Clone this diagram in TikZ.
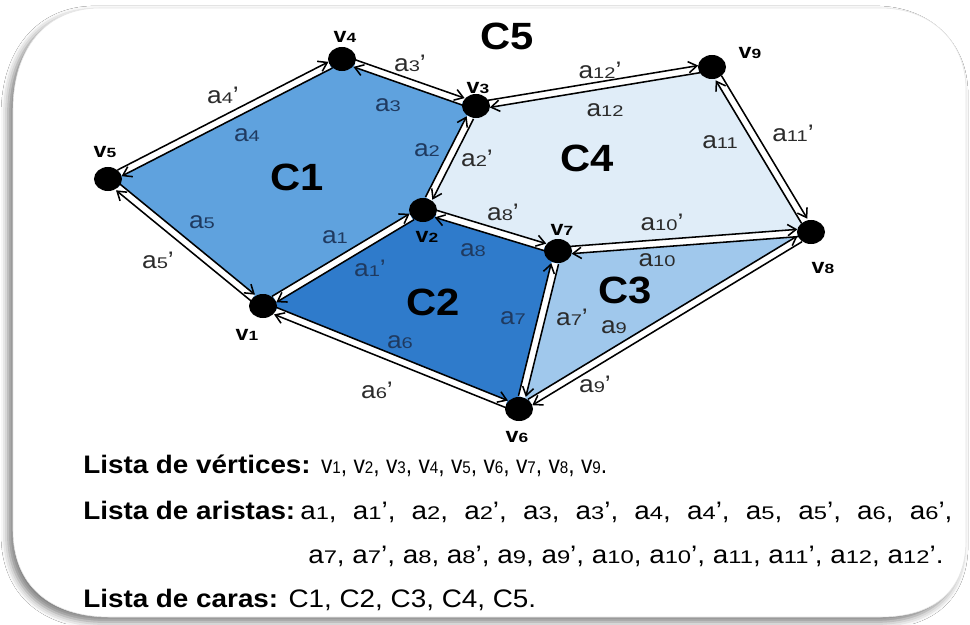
\documentclass[tikz,border=0pt]{standalone}
\usepackage{fontspec}
\setmainfont{Liberation Sans}[FakeStretch=1.1]
\newfontfamily\cifras{Liberation Sans}[FakeStretch=1.3]
\newfontfamily\estrecha{Liberation Sans}[FakeStretch=0.9]
\usetikzlibrary{arrows.meta,calc,shapes.geometric,shadows.blur,backgrounds}

\definecolor{caraA}{HTML}{5FA2DE}
\definecolor{caraB}{HTML}{2F7BCB}
\definecolor{caraC}{HTML}{A0C8EC}
\definecolor{caraD}{HTML}{E0EDF8}
\definecolor{tinta}{HTML}{1F3A60}
\definecolor{gris}{HTML}{2B2B2B}

\newcommand{\dg}[1]{{\cifras\fontsize{11}{11}\selectfont#1}}
\newcommand{\dv}[1]{{\cifras\fontsize{9.5}{9.5}\selectfont\bfseries#1}}
\newcommand{\dl}[1]{{\estrecha\fontsize{12}{12}\selectfont#1}}
\newcommand{\dm}[1]{{\cifras\fontsize{13}{13}\selectfont#1}}

\begin{document}
\begin{tikzpicture}[x=0.025cm,y=-0.025cm,
  vert/.style={ellipse,fill=black,inner sep=0pt,minimum width=0.7cm,minimum height=0.6cm},
  banda/.style={white,line width=5pt},
  arco/.style={line width=1.1pt,-{Straight Barb[length=6pt,width=8pt]},shorten <=9pt,shorten >=9.5pt},
  etq/.style={font=\fontsize{17}{17}\selectfont,inner sep=1pt},
  nomv/.style={font=\fontsize{15}{15}\selectfont\bfseries,inner sep=1pt},
  cara/.style={font=\fontsize{27}{27}\selectfont\bfseries,inner sep=0pt},
  lista/.style={font=\fontsize{18}{18}\selectfont,anchor=base west,inner sep=0pt}]
  \useasboundingbox (0,0) rectangle (970,624);

  \node[vert] (v1) at (263,306) {};
  \node[vert] (v2) at (423,210) {};
  \node[vert] (v3) at (476,106) {};
  \node[vert] (v4) at (342,59) {};
  \node[vert] (v5) at (108,179) {};
  \node[vert] (v6) at (519,409) {};
  \node[vert] (v7) at (558,251) {};
  \node[vert] (v8) at (811,232) {};
  \node[vert] (v9) at (712,67) {};

  \begin{pgfonlayer}{background}
    \fill[white] (0,0) rectangle (970,624);
    \draw[gray!20,fill=white,
      blur shadow={shadow xshift=-3.5pt,shadow yshift=-3.5pt,shadow blur radius=5pt,shadow opacity=50}]
      (13,110) -- (13,530) .. controls (13,585) and (50,617) .. (110,617) -- (880,617)
      .. controls (935,617) and (966,590) .. (966,540) -- (966,90)
      .. controls (966,40) and (930,8) .. (880,8) -- (100,8)
      .. controls (45,8) and (13,50) .. (13,110) -- cycle;
    \fill[caraA] (v1.center) -- (v2.center) -- (v3.center) -- (v4.center) -- (v5.center) -- cycle;
    \fill[caraB] (v1.center) -- (v6.center) -- (v7.center) -- (v2.center) -- cycle;
    \fill[caraC] (v7.center) -- (v6.center) -- (v8.center) -- cycle;
    \fill[caraD] (v2.center) -- (v7.center) -- (v8.center) -- (v9.center) -- (v3.center) -- cycle;
  \end{pgfonlayer}

  \foreach \p/\q in {v1/v2,v2/v3,v3/v4,v4/v5,v5/v1,v1/v6,v6/v7,v7/v2,v6/v8,v8/v7,v8/v9,v9/v3} {
    \draw[banda] (\p) -- (\q);
    \draw[arco] ($(\p)!2.6pt!90:(\q)$) -- ($(\q)!2.6pt!-90:(\p)$);
    \draw[arco] ($(\q)!2.6pt!90:(\p)$) -- ($(\p)!2.6pt!-90:(\q)$);
  }

  \foreach \n/\x/\y in {1/247/335,2/427/237,3/478/88,4/345/37,5/105/152,6/517/437,7/562/230,8/823/268,9/750/53}
    \node[nomv] (n\n) at (\x,\y) {v\dv{\n}};

  \foreach \n/\x/\y/\col in {1/335/237/tinta,2/427/150/tinta,3/388/105/tinta,4/247/135/tinta,
      5/202/222/tinta,6/400/342/tinta,7/513/318/tinta,8/473/250/tinta,
      9/614/327/gris,10/657/260/gris,11/720/142/gris,12/605/110/gris}
    \node[etq,text=\col] (la\n) at (\x,\y) {a\dg{\n}};
  \foreach \n/\x/\y/\col in {1/370/268/tinta,2/477/158/gris,3/410/63/gris,4/223/95/gris,
      5/158/260/gris,6/377/390/gris,7/572/317/gris,8/503/212/gris,
      9/595/384/gris,10/662/222/gris,11/793/133/gris,12/600/70/gris}
    \node[etq,text=\col] (lb\n) at (\x,\y) {a\dg{\n}'};

  \node[cara] (c1) at (297,177) {C1};
  \node[cara] (c2) at (433,302) {C2};
  \node[cara] (c3) at (625,290) {C3};
  \node[cara] (c4) at (587,158) {C4};
  \node[cara] (c5) at (507,36) {C5};

  \node[lista] (vertices) at (83,473) {\textbf{Lista de vértices:}
    {\estrecha v\dl{1}, v\dl{2}, v\dl{3}, v\dl{4}, v\dl{5}, v\dl{6}, v\dl{7}, v\dl{8}, v\dl{9}.}};
  \node[lista] (aristas) at (83,519) {\textbf{Lista de aristas:}};
  \node[lista] (aristas1) at (300,519) {\makebox[16.3cm][s]{a\dm{1}, a\dm{1}', a\dm{2}, a\dm{2}', a\dm{3}, a\dm{3}',
    a\dm{4}, a\dm{4}', a\dm{5}, a\dm{5}', a\dm{6}, a\dm{6}',}};
  \node[lista] (aristas2) at (308,563) {a\dm{7}, a\dm{7}', a\dm{8}, a\dm{8}', a\dm{9}, a\dm{9}', a\dm{10}, a\dm{10}', a\dm{11}, a\dm{11}', a\dm{12}, a\dm{12}'.};
  \node[lista] (caras) at (83,607) {\textbf{Lista de caras:} C1, C2, C3, C4, C5.};
\end{tikzpicture}
\end{document}
